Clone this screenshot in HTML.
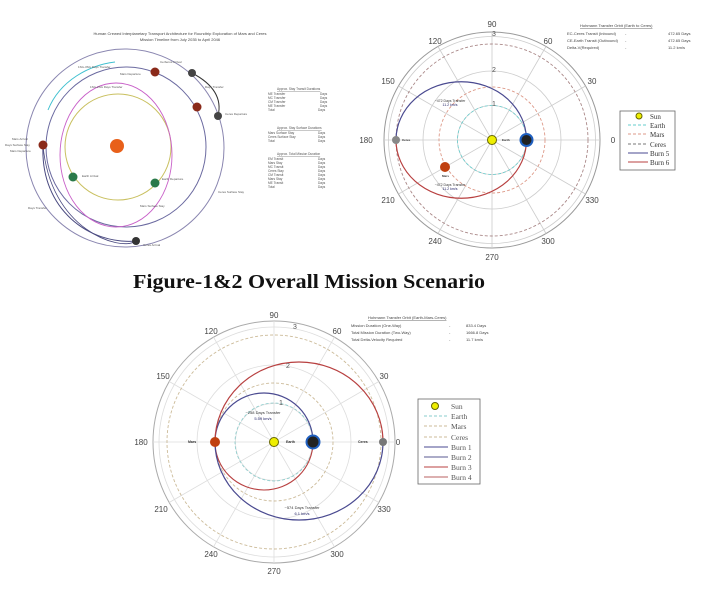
<!DOCTYPE html>
<html><head><meta charset="utf-8"><style>
html,body{margin:0;padding:0;background:#fff;}
svg{display:block}
text{font-family:"Liberation Sans",sans-serif;}
.serif text, text.serif{font-family:"Liberation Serif",serif;}
</style></head><body>
<svg width="720" height="595" viewBox="0 0 720 595" xmlns="http://www.w3.org/2000/svg">
<rect width="720" height="595" fill="#fff"/>

<!-- ===== Left diagram ===== -->
<g>
<text x="180" y="35" font-size="4" text-anchor="middle" fill="#444">Human Crewed Interplanetary Transport Architecture for Roundtrip Exploration of Mars and Ceres</text>
<text x="180" y="41" font-size="4" text-anchor="middle" fill="#444">Mission Timeline from July 2035 to April 2046</text>
<circle cx="125" cy="148" r="99" fill="none" stroke="#8a86b0" stroke-width="1"/>
<circle cx="126" cy="147" r="80" fill="none" stroke="#6b6aa0" stroke-width="1"/>
<circle cx="118" cy="147" r="53" fill="none" stroke="#c9c060" stroke-width="1"/>
<ellipse cx="116" cy="155" rx="56" ry="72" fill="none" stroke="#c860c8" stroke-width="0.9"/>
<path d="M43 145 C40 210 90 245 136 241" fill="none" stroke="#4a4a80" stroke-width="1"/>
<path d="M43 145 C50 230 120 252 136 241" fill="none" stroke="#4a4a80" stroke-width="0.8"/>
<path d="M48 110 C60 80 90 65 115 62" fill="none" stroke="#40c0d0" stroke-width="1"/>
<path d="M192 73 C215 85 222 100 218 116" fill="none" stroke="#333" stroke-width="1"/>
<circle cx="117" cy="146" r="7" fill="#e8601a"/>
<circle cx="43" cy="145" r="4.5" fill="#8a2a1a"/>
<circle cx="155" cy="72" r="4.5" fill="#8a2a1a"/>
<circle cx="197" cy="107" r="4.5" fill="#8a2a1a"/>
<circle cx="192" cy="73" r="4" fill="#444"/>
<circle cx="218" cy="116" r="4" fill="#444"/>
<circle cx="136" cy="241" r="4" fill="#333"/>
<circle cx="73" cy="177" r="4.5" fill="#2a7a4a"/>
<circle cx="155" cy="183" r="4.5" fill="#2a7a4a"/>
<g font-size="3" fill="#555">
<text x="78" y="68">1SG-3SG Days Transfer</text>
<text x="90" y="88">1SG-2SG Days Transfer</text>
<text x="120" y="75">Mars Departure</text>
<text x="160" y="63">Cerberus Arrival</text>
<text x="205" y="88">Days Transfer</text>
<text x="225" y="115">Ceres Departure</text>
<text x="12" y="140">Mars Arrival</text>
<text x="5" y="146">Days Surface Stay</text>
<text x="10" y="152">Mars Departure</text>
<text x="82" y="177">Earth Arrival</text>
<text x="162" y="180">Earth Departure</text>
<text x="218" y="193">Ceres Surface Stay</text>
<text x="140" y="207">Mars Surface Stay</text>
<text x="28" y="209">Days Transfer</text>
<text x="143" y="246">Ceres Arrival</text>
</g>
<g font-size="3.2" fill="#555">
<text x="277" y="90" text-decoration="underline">Approx. Stay Transit Durations</text>
<text x="268" y="95">ME Transfer</text><text x="320" y="95">Days</text>
<text x="268" y="99">MC Transfer</text><text x="320" y="99">Days</text>
<text x="268" y="103">CM Transfer</text><text x="320" y="103">Days</text>
<text x="268" y="107">ME Transfer</text><text x="320" y="107">Days</text>
<text x="268" y="111">Total</text><text x="318" y="111">Days</text>
<text x="277" y="129" text-decoration="underline">Approx. Stay Surface Durations</text>
<text x="268" y="134">Mars Surface Stay</text><text x="318" y="134">Days</text>
<text x="268" y="138">Ceres Surface Stay</text><text x="318" y="138">Days</text>
<text x="268" y="142">Total</text><text x="318" y="142">Days</text>
<text x="277" y="155" text-decoration="underline">Approx. Total Mission Duration</text>
<text x="268" y="160">EM Transit</text><text x="318" y="160">Days</text>
<text x="268" y="164">Mars Stay</text><text x="318" y="164">Days</text>
<text x="268" y="168">MC Transit</text><text x="318" y="168">Days</text>
<text x="268" y="172">Ceres Stay</text><text x="318" y="172">Days</text>
<text x="268" y="176">CM Transit</text><text x="318" y="176">Days</text>
<text x="268" y="180">Mars Stay</text><text x="318" y="180">Days</text>
<text x="268" y="184">ME Transit</text><text x="318" y="184">Days</text>
<text x="268" y="188">Total</text><text x="318" y="188">Days</text>
</g>
</g>

<!-- ===== Top-right polar ===== -->
<g transform="translate(492,140)">
<circle r="108" fill="none" stroke="#999" stroke-width="1"/>
<g stroke="#ccc" stroke-width="0.8" fill="none">
<circle r="34.5"/><circle r="69"/><circle r="103.5"/>
<line x1="-108" y1="0" x2="108" y2="0"/>
<line x1="0" y1="-108" x2="0" y2="108"/>
<line x1="-93.5" y1="-54" x2="93.5" y2="54"/>
<line x1="-93.5" y1="54" x2="93.5" y2="-54"/>
<line x1="-54" y1="-93.5" x2="54" y2="93.5"/>
<line x1="-54" y1="93.5" x2="54" y2="-93.5"/>
</g>
<circle r="34.5" fill="none" stroke="#6cc" stroke-width="0.8" stroke-dasharray="3,2"/>
<circle r="53" fill="none" stroke="#d98" stroke-width="0.9" stroke-dasharray="3,2"/>
<circle r="96" fill="none" stroke="#a88" stroke-width="0.9" stroke-dasharray="3,2"/>
<path d="M34.5 0 A65 58 0 0 0 -96 0" fill="none" stroke="#4a4a90" stroke-width="1.2"/>
<path d="M-96 0 A65 58 0 0 0 34.5 0" fill="none" stroke="#b84040" stroke-width="1.2"/>
<circle r="4.5" fill="#ee0" stroke="#660" stroke-width="1"/>
<circle cx="34.5" cy="0" r="6" fill="#222" stroke="#2060c0" stroke-width="2"/>
<circle cx="-96" cy="0" r="4" fill="#888"/>
<circle cx="-47" cy="27" r="5" fill="#c04010"/>
<g font-size="3" fill="#333" font-weight="bold"><text x="10" y="1">Earth</text><text x="-90" y="1">Ceres</text><text x="-50" y="37">Mars</text></g>
<g font-size="3.5" fill="#333" text-anchor="middle">
<text x="-42" y="-38">~472 Days Transfer</text><text x="-42" y="-34" fill="#226">11.2 km/s</text>
<text x="-42" y="46">~472 Days Transfer</text><text x="-42" y="50" fill="#226">11.2 km/s</text>
</g>
<g font-size="7" fill="#555" text-anchor="middle">
<text x="2" y="-104">3</text><text x="2" y="-68">2</text><text x="2" y="-34">1</text>
</g>
<g font-size="8" fill="#444" text-anchor="middle">
<text x="0" y="-113">90</text><text x="0" y="120">270</text>
<text x="-126" y="3">180</text><text x="121" y="3">0</text>
<text x="56" y="-96">60</text><text x="-57" y="-96">120</text>
<text x="100" y="-56">30</text><text x="-104" y="-56">150</text>
<text x="-104" y="63">210</text><text x="100" y="63">330</text>
<text x="-57" y="104">240</text><text x="56" y="104">300</text>
</g>
</g>
<g font-size="4" fill="#444">
<text x="580" y="27" text-decoration="underline">Hohmann Transfer Orbit (Earth to Ceres)</text>
<text x="567" y="35">EC-Ceres Transit (Inbound)</text><text x="625" y="35">-</text><text x="668" y="35">472.65 Days</text>
<text x="567" y="42">CE-Earth Transit (Outbound)</text><text x="625" y="42">-</text><text x="668" y="42">472.65 Days</text>
<text x="567" y="49">Delta-V(Required)</text><text x="625" y="49">-</text><text x="668" y="49">11.2 km/s</text>
</g>
<g>
<rect x="620" y="111" width="55" height="59" fill="#fff" stroke="#666" stroke-width="0.8"/>
<circle cx="639" cy="116" r="3" fill="#ee0" stroke="#660"/>
<g stroke-width="0.9"><line x1="628" y1="125" x2="648" y2="125" stroke="#6cc" stroke-dasharray="3,2"/>
<line x1="628" y1="134" x2="648" y2="134" stroke="#d98" stroke-dasharray="3,2"/>
<line x1="628" y1="144" x2="648" y2="144" stroke="#777" stroke-dasharray="3,2"/>
<line x1="628" y1="153" x2="648" y2="153" stroke="#4a4a90"/>
<line x1="628" y1="162" x2="648" y2="162" stroke="#b84040"/></g>
<g class="serif" font-size="7" fill="#333">
<text x="650" y="119">Sun</text><text x="650" y="128">Earth</text><text x="650" y="137">Mars</text><text x="650" y="147">Ceres</text><text x="650" y="156">Burn 5</text><text x="650" y="165">Burn 6</text></g>
</g>

<!-- Caption -->
<text class="serif" x="133" y="288" font-size="20" font-weight="bold" fill="#111" textLength="352" lengthAdjust="spacingAndGlyphs">Figure-1&amp;2 Overall Mission Scenario</text>

<!-- ===== Bottom polar ===== -->
<g transform="translate(274,442)">
<circle r="121" fill="none" stroke="#aaa" stroke-width="1"/>
<g stroke="#ddd" stroke-width="0.8" fill="none">
<circle r="38.5"/><circle r="77"/><circle r="115"/>
<line x1="-121" y1="0" x2="121" y2="0"/>
<line x1="0" y1="-121" x2="0" y2="121"/>
<line x1="-104.8" y1="-60.5" x2="104.8" y2="60.5"/>
<line x1="-104.8" y1="60.5" x2="104.8" y2="-60.5"/>
<line x1="-60.5" y1="-104.8" x2="60.5" y2="104.8"/>
<line x1="-60.5" y1="104.8" x2="60.5" y2="-104.8"/>
</g>
<circle r="39" fill="none" stroke="#8cc" stroke-width="0.8" stroke-dasharray="3,2"/>
<circle r="59" fill="none" stroke="#cb9" stroke-width="0.9" stroke-dasharray="3,2"/>
<circle r="107" fill="none" stroke="#cb9" stroke-width="0.9" stroke-dasharray="3,2"/>
<path d="M39 0 A49 49 0 0 0 -59 0" fill="none" stroke="#4a4a90" stroke-width="1.2"/>
<path d="M-59 0 A49 48 0 0 0 39 0" fill="none" stroke="#b84040" stroke-width="1.1"/>
<path d="M-59 0 A84 80 0 0 1 109 0" fill="none" stroke="#b84040" stroke-width="1.2"/>
<path d="M-59 0 A84 78 0 0 0 109 0" fill="none" stroke="#4a4a90" stroke-width="1.2"/>
<circle r="4.5" fill="#ee0" stroke="#660" stroke-width="1"/>
<circle cx="39" cy="0" r="6.5" fill="#222" stroke="#2060c0" stroke-width="2"/>
<circle cx="-59" cy="0" r="5" fill="#c04010"/>
<circle cx="109" cy="0" r="4" fill="#777"/>
<g font-size="3.5" fill="#333" font-weight="bold"><text x="12" y="1">Earth</text><text x="-86" y="1">Mars</text><text x="84" y="1">Ceres</text></g>
<g font-size="4" fill="#333" text-anchor="middle">
<text x="-11" y="-28">~258 Days Transfer</text><text x="-11" y="-22" fill="#226">5.59 km/s</text>
<text x="28" y="67">~574 Days Transfer</text><text x="28" y="73" fill="#226">6.1 km/s</text>
</g>
<g font-size="7" fill="#555" text-anchor="middle">
<text x="21" y="-113">3</text><text x="14" y="-74">2</text><text x="7" y="-37">1</text>
</g>
<g font-size="8" fill="#444" text-anchor="middle">
<text x="0" y="-124">90</text><text x="0" y="132">270</text>
<text x="-133" y="3">180</text><text x="124" y="3">0</text>
<text x="63" y="-108">60</text><text x="-63" y="-108">120</text>
<text x="110" y="-63">30</text><text x="-111" y="-63">150</text>
<text x="-113" y="70">210</text><text x="110" y="70">330</text>
<text x="-63" y="115">240</text><text x="63" y="115">300</text>
</g>
</g>
<g font-size="4" fill="#444">
<text x="368" y="319" text-decoration="underline">Hohmann Transfer Orbit (Earth-Mars-Ceres)</text>
<text x="351" y="327">Mission Duration (One-Way)</text><text x="449" y="327">-</text><text x="466" y="327">833.4 Days</text>
<text x="351" y="334">Total Mission Duration (Two-Way)</text><text x="449" y="334">-</text><text x="466" y="334">1666.8 Days</text>
<text x="351" y="341">Total Delta-Velocity Required</text><text x="449" y="341">-</text><text x="466" y="341">11.7 km/s</text>
</g>
<g>
<rect x="418" y="399" width="62" height="85" fill="#fff" stroke="#666" stroke-width="0.8"/>
<circle cx="435" cy="406" r="3.5" fill="#ee0" stroke="#660"/>
<g stroke-width="0.9"><line x1="424" y1="416" x2="448" y2="416" stroke="#8cc" stroke-dasharray="3,2"/>
<line x1="424" y1="426" x2="448" y2="426" stroke="#cb9" stroke-dasharray="3,2"/>
<line x1="424" y1="437" x2="448" y2="437" stroke="#cb9" stroke-dasharray="3,2"/>
<line x1="424" y1="447" x2="448" y2="447" stroke="#4a4a90"/>
<line x1="424" y1="457" x2="448" y2="457" stroke="#5a5a90"/>
<line x1="424" y1="467" x2="448" y2="467" stroke="#b84040"/>
<line x1="424" y1="477" x2="448" y2="477" stroke="#b86060"/></g>
<g class="serif" font-size="7.5" fill="#555">
<text x="451" y="409">Sun</text><text x="451" y="419">Earth</text><text x="451" y="429">Mars</text><text x="451" y="440">Ceres</text><text x="451" y="450">Burn 1</text><text x="451" y="460">Burn 2</text><text x="451" y="470">Burn 3</text><text x="451" y="480">Burn 4</text></g>
</g>
</svg>
</body></html>
